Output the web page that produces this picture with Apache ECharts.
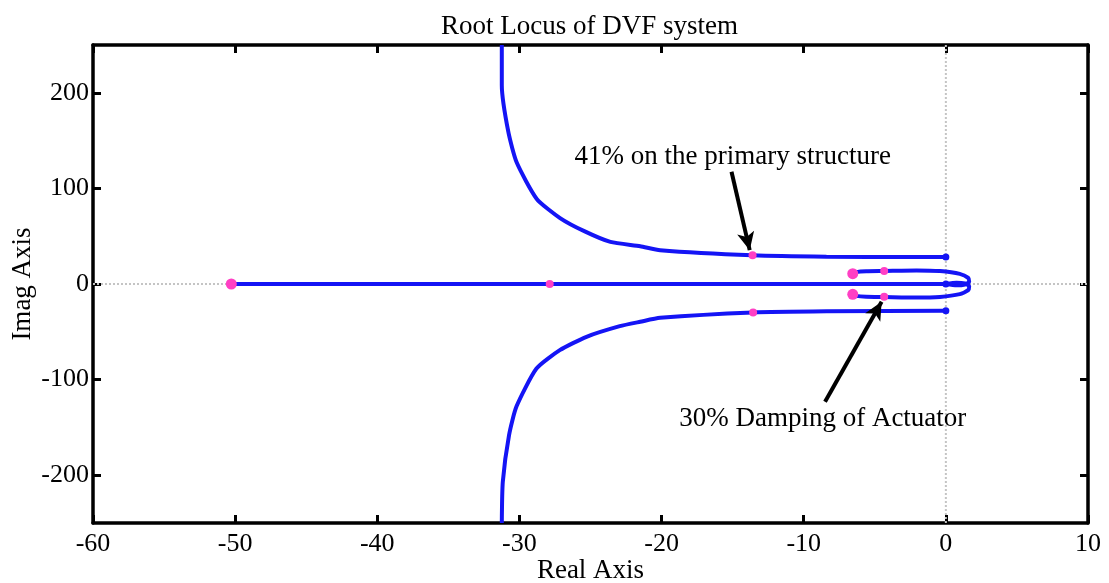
<!DOCTYPE html>
<html>
<head>
<meta charset="utf-8">
<script src="https://cdn.jsdelivr.net/npm/echarts@6/dist/echarts.min.js"></script>
<style>
  html, body { margin: 0; padding: 0; background: #fff; }
  #main { width: 1109px; height: 583px; }
</style>
</head>
<body>
<div id="main"></div>
<script>
// root locus branches (real part, imag part)
var upperRe = [-31.24, -31.24, -30.78, -30.19, -28.78, -27.14, -25.4, -23.6, -21.5, -20.1, -13.6, -8.4, -2.5, 0]
var upperIm = [250, 208, 159, 127, 89, 69, 55, 44, 39.5, 35.4, 30.1, 28.6, 28.2, 28.2]
var lowerRe = [-31.24, -31.17, -30.73, -30.21, -28.8, -27.16, -25.28, -22.94, -21.5, -20.1, -13.56, -8.4, -0.19, 0]
var lowerIm = [-250, -206.9, -158, -128.2, -88.4, -69.2, -55.2, -44.1, -39.5, -35.4, -29.8, -28.6, -28, -28]
var axisRe = [-50.27, 0]
var axisIm = [0, 0]
var loopUpRe = [-6.55, -6.3, -5.6, -4.34, -2.06, -0.42, 0.98, 1.57, 1.64, 1.34, 0.75, 0]
var loopUpIm = [10.8, 12.4, 13.3, 13.6, 14.2, 13.5, 10.6, 6.4, 2.3, -0.5, -1.4, 0]
var loopDnRe = [-6.55, -6.3, -5.6, -4.34, -2.06, -0.42, 0.98, 1.57, 1.64, 1.34, 0.75, 0]
var loopDnIm = [-10.8, -12.4, -13.3, -13.6, -14.2, -13.5, -10.6, -6.4, -2.3, 0.5, 1.4, 0]

// markers
var bigPink = [[-50.27, 0], [-6.55, 10.8], [-6.55, -10.8]]
var smallPink = [[-27.87, 0], [-13.6, 30.1], [-13.56, -29.8], [-4.34, 13.6], [-4.34, -13.4]]
var endDots = [[0, 28.2], [0, -28], [0, 0]]

// annotations
var notes = [[-14.99, 133.4, '41% on the primary structure'], [-8.66, -140.7, '30% Damping of Actuator']]
var arrows = [[[-15.08, 117.4], [-13.8, 35.4]], [[-8.5, -123.2], [-4.52, -18.6]]]

var yTicks = [-200, -100, 0, 100, 200]

function zip(xs, ys) {
  return xs.map(function (x, i) { return [x, ys[i]] })
}

var font = 'Liberation Serif'
var blue = '#1414f5'
var pink = '#ff3fc4'

var chart = echarts.init(document.getElementById('main'))

var branchStyle = { color: blue, width: 4 }
function branch(data) {
  return {
    type: 'line',
    data: data,
    showSymbol: false,
    smooth: 0.2,
    lineStyle: branchStyle,
    z: 3,
    silent: true
  }
}

var frame = { show: true, onZero: false, lineStyle: { color: '#000', width: 3.5 } }
var tickStyle = { color: '#000', width: 3 }

var option = {
  animation: false,
  title: {
    text: 'Root Locus of DVF system',
    left: 436,
    top: 8,
    textStyle: { fontFamily: font, fontSize: 27, fontWeight: 'normal', color: '#000' }
  },
  grid: { left: 93, right: 21, top: 45, bottom: 60, outerBoundsMode: 'none' },
  xAxis: [
    {
      type: 'value', min: -60, max: 10, interval: 10,
      name: 'Real Axis', nameLocation: 'middle', nameGap: 34, nameMoveOverlap: false,
      nameTextStyle: { fontFamily: font, fontSize: 27, color: '#000' },
      axisLine: frame,
      axisTick: { inside: true, length: 8, lineStyle: tickStyle },
      axisLabel: { fontFamily: font, fontSize: 26, color: '#000', margin: 8 },
      splitLine: { show: false }
    },
    {
      type: 'value', min: -60, max: 10, interval: 10, position: 'top',
      axisLine: frame,
      axisTick: { inside: true, length: 8, lineStyle: tickStyle },
      axisLabel: { show: false },
      splitLine: { show: false }
    }
  ],
  yAxis: [
    {
      type: 'value', min: -250, max: 250,
      name: 'Imag Axis', nameLocation: 'middle', nameGap: 57, nameMoveOverlap: false,
      nameTextStyle: { fontFamily: font, fontSize: 27, color: '#000' },
      axisLine: frame,
      axisTick: { inside: true, length: 8, customValues: yTicks, lineStyle: tickStyle },
      axisLabel: { fontFamily: font, fontSize: 26, color: '#000', margin: 4, customValues: yTicks },
      splitLine: { show: false }
    },
    {
      type: 'value', min: -250, max: 250, position: 'right',
      axisLine: frame,
      axisTick: { inside: true, length: 8, customValues: yTicks, lineStyle: tickStyle },
      axisLabel: { show: false },
      splitLine: { show: false }
    }
  ],
  series: [
    // dotted zero lines
    {
      type: 'line', data: [[0, -250], [0, 250]], showSymbol: false, silent: true, z: 1,
      lineStyle: { color: '#c4c4c4', width: 2, type: 'dotted' }
    },
    {
      type: 'line', data: [[-60, 0], [10, 0]], showSymbol: false, silent: true, z: 1,
      lineStyle: { color: '#c4c4c4', width: 2, type: 'dotted' }
    },
    branch(zip(upperRe, upperIm)),
    branch(zip(lowerRe, lowerIm)),
    branch(zip(axisRe, axisIm)),
    branch(zip(loopUpRe, loopUpIm)),
    branch(zip(loopDnRe, loopDnIm)),
    {
      type: 'scatter', data: endDots, symbolSize: 7, z: 4, silent: true,
      itemStyle: { color: blue, opacity: 1 }
    },
    {
      type: 'scatter', data: bigPink, symbolSize: 11, z: 5, silent: true,
      itemStyle: { color: pink, opacity: 1 }
    },
    {
      type: 'scatter', data: smallPink, symbolSize: 8, z: 5, silent: true,
      itemStyle: { color: pink, opacity: 1 }
    },
    // annotation texts and arrows
    {
      type: 'scatter', data: notes, symbolSize: 0, z: 6, silent: true,
      itemStyle: { opacity: 1 },
      label: {
        show: true, position: 'inside',
        formatter: function (p) { return p.data[2] },
        fontFamily: font, fontSize: 27, color: '#000'
      },
      markLine: {
        silent: true,
        symbol: ['none', 'arrow'],
        symbolSize: [13, 18],
        label: { show: false },
        lineStyle: { color: '#000', width: 4, type: 'solid', opacity: 1 },
        data: arrows.map(function (a) {
          return [{ coord: a[0] }, { coord: a[1] }]
        })
      }
    }
  ]
}

chart.setOption(option)
</script>
</body>
</html>
